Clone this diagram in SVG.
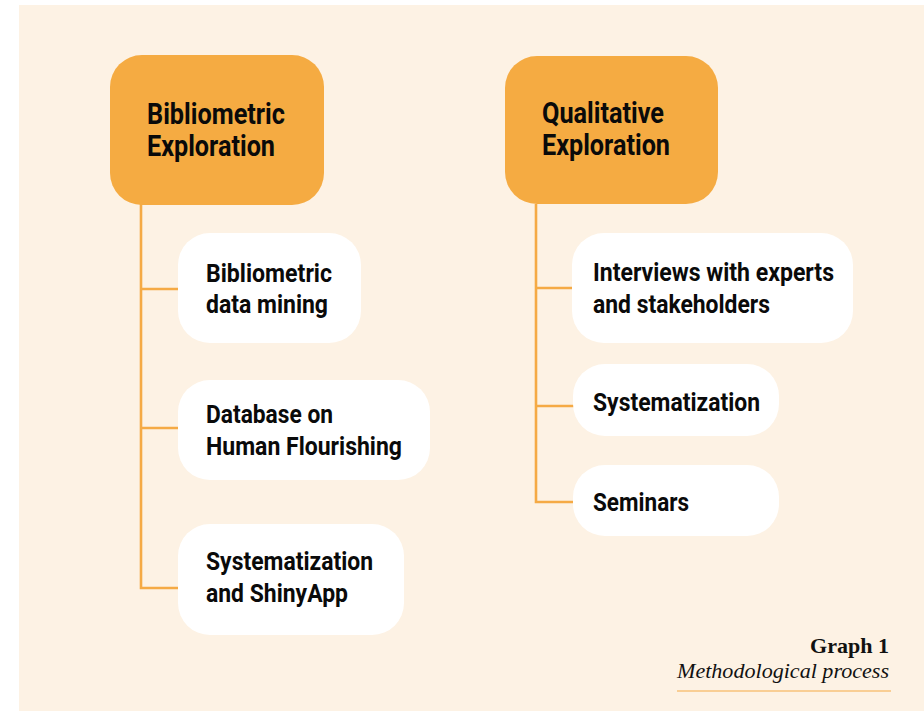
<svg xmlns="http://www.w3.org/2000/svg" width="924" height="711" viewBox="0 0 924 711">
<style>
.bg{fill:#FDF2E4}
.head{fill:#F5AB42}
.child{fill:#FFFFFF}
.conn{fill:none;stroke:#F5AA45;stroke-width:2.6}
.h{font-family:Roboto,"Liberation Sans",sans-serif;font-weight:700;font-size:29.5px;fill:#0a0a0a}
.t{font-family:Roboto,"Liberation Sans",sans-serif;font-weight:700;font-size:26.5px;fill:#0a0a0a}
.cap{font-family:"Liberation Serif",serif;fill:#111}
</style>
<rect width="924" height="711" fill="#FFFFFF"/>
<rect class="bg" x="19" y="5" width="905" height="706"/>
<g id="connectors">
<path class="conn" d="M141 204 V588 H179"/>
<path class="conn" d="M141 289 H179"/>
<path class="conn" d="M141 428 H179"/>
<path class="conn" d="M536 204 V502 H574"/>
<path class="conn" d="M536 288 H574"/>
<path class="conn" d="M536 406 H574"/>
</g>
<g id="bibliometric-exploration">
<rect class="head" x="110" y="55" width="214" height="150" rx="32"/>
<text class="h" x="147" y="124" textLength="138" lengthAdjust="spacingAndGlyphs">Bibliometric</text>
<text class="h" x="147" y="156" textLength="128" lengthAdjust="spacingAndGlyphs">Exploration</text>
</g>
<g id="bibliometric-data-mining">
<rect class="child" x="178" y="233" width="183" height="110" rx="32"/>
<text class="t" x="206" y="282" textLength="126" lengthAdjust="spacingAndGlyphs">Bibliometric</text>
<text class="t" x="206" y="313" textLength="122" lengthAdjust="spacingAndGlyphs">data mining</text>
</g>
<g id="database-human-flourishing">
<rect class="child" x="178" y="380" width="252" height="100" rx="32"/>
<text class="t" x="206" y="423" textLength="127" lengthAdjust="spacingAndGlyphs">Database on</text>
<text class="t" x="206" y="455" textLength="196" lengthAdjust="spacingAndGlyphs">Human Flourishing</text>
</g>
<g id="systematization-shinyapp">
<rect class="child" x="178" y="524" width="226" height="111" rx="32"/>
<text class="t" x="206" y="570" textLength="167" lengthAdjust="spacingAndGlyphs">Systematization</text>
<text class="t" x="206" y="602" textLength="142" lengthAdjust="spacingAndGlyphs">and ShinyApp</text>
</g>
<g id="qualitative-exploration">
<rect class="head" x="505" y="56" width="213" height="148" rx="32"/>
<text class="h" x="542" y="123" textLength="122" lengthAdjust="spacingAndGlyphs">Qualitative</text>
<text class="h" x="542" y="155" textLength="128" lengthAdjust="spacingAndGlyphs">Exploration</text>
</g>
<g id="interviews">
<rect class="child" x="572" y="233" width="281" height="110" rx="32"/>
<text class="t" x="593" y="281" textLength="241" lengthAdjust="spacingAndGlyphs">Interviews with experts</text>
<text class="t" x="593" y="313" textLength="177" lengthAdjust="spacingAndGlyphs">and stakeholders</text>
</g>
<g id="systematization">
<rect class="child" x="573" y="364" width="206" height="72" rx="32"/>
<text class="t" x="593" y="411" textLength="167" lengthAdjust="spacingAndGlyphs">Systematization</text>
</g>
<g id="seminars">
<rect class="child" x="573" y="465" width="206" height="71" rx="32"/>
<text class="t" x="593" y="511" textLength="96" lengthAdjust="spacingAndGlyphs">Seminars</text>
</g>
<g id="caption">
<text class="cap" x="889" y="653" text-anchor="end" font-size="22" font-weight="700" textLength="79" lengthAdjust="spacingAndGlyphs">Graph 1</text>
<text class="cap" x="889" y="678" text-anchor="end" font-size="22" font-style="italic" textLength="212" lengthAdjust="spacingAndGlyphs">Methodological process</text>
<line x1="677" y1="691" x2="891" y2="691" stroke="#F5AA45" stroke-width="1.2"/>
</g>
</svg>
